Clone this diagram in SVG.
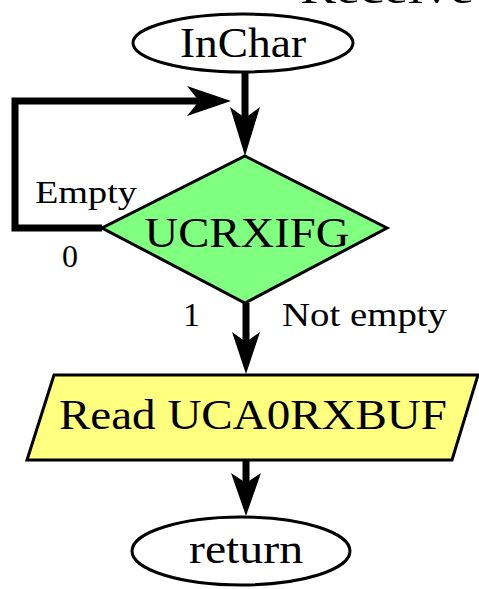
<svg xmlns="http://www.w3.org/2000/svg" width="479" height="589" viewBox="0 0 479 589" font-family="'Liberation Serif', 'Times New Roman', Times, serif">
  <style>
    text { font-family: 'Liberation Serif', 'Times New Roman', Times, serif; fill: #000; }
    .big { font-size: 43px; }
    .small { font-size: 32px; }
    .mid { font-size: 34px; }
    .shape { stroke: #000; stroke-width: 3; }
    .wire { fill: none; stroke: #000; stroke-width: 7; stroke-linejoin: miter; }
    .head { fill: #000; stroke: none; }
  </style>
  <rect width="479" height="589" fill="#fff"/>

  <!-- title, clipped by the top edge -->
  <text class="big" x="300" y="3" textLength="174" lengthAdjust="spacingAndGlyphs">Receive</text>

  <g id="connectors">
    <!-- InChar -> decision -->
    <line class="wire" x1="245" y1="72" x2="245" y2="120"/>
    <path class="head" d="M245,156 L230,107 L245,118 L260,107 Z"/>
    <!-- empty loop back -->
    <polyline class="wire" points="102,228 15,228 15,101 200,101"/>
    <path class="head" d="M231,101 L187,86 L199,101 L187,116 Z"/>
    <!-- decision -> read -->
    <line class="wire" x1="246" y1="303" x2="246" y2="345"/>
    <path class="head" d="M246,374 L232,332 L246,342 L260,332 Z"/>
    <!-- read -> return -->
    <line class="wire" x1="246" y1="460" x2="246" y2="485"/>
    <path class="head" d="M246,516 L231,473 L246,483 L261,473 Z"/>
  </g>

  <g id="inchar">
    <ellipse class="shape" cx="243" cy="43" rx="110" ry="29" fill="#fff"/>
    <text class="big" x="243" y="57" text-anchor="middle" textLength="126" lengthAdjust="spacingAndGlyphs">InChar</text>
  </g>

  <g id="ucrxifg">
    <polygon class="shape" points="245,156 387,228 245,303 102,228" fill="#80ff80"/>
    <text class="big" x="247" y="247" text-anchor="middle" textLength="205" lengthAdjust="spacingAndGlyphs">UCRXIFG</text>
  </g>

  <g id="edge-labels">
    <text class="small" x="35" y="203" textLength="102" lengthAdjust="spacingAndGlyphs">Empty</text>
    <text class="small" x="62" y="267">0</text>
    <text class="mid" x="183" y="326">1</text>
    <text class="mid" x="282" y="326" textLength="165" lengthAdjust="spacingAndGlyphs">Not empty</text>
  </g>

  <g id="read">
    <polygon class="shape" points="54,375 478,375 452,460 27,460" fill="#ffff80"/>
    <text class="big" x="59" y="429" textLength="388" lengthAdjust="spacingAndGlyphs">Read UCA0RXBUF</text>
  </g>

  <g id="return">
    <ellipse class="shape" cx="241" cy="551" rx="109" ry="34" fill="#fff"/>
    <text class="big" x="246" y="563" text-anchor="middle" textLength="114" lengthAdjust="spacingAndGlyphs">return</text>
  </g>
</svg>
